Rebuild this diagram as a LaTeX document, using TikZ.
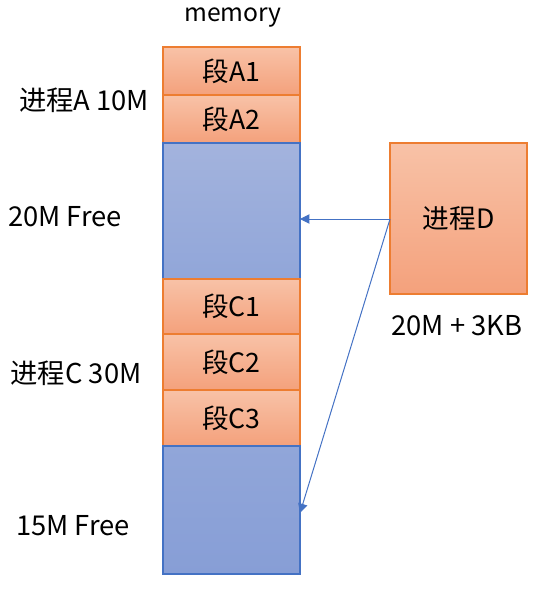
\documentclass[tikz,border=0pt]{standalone}
\usepackage{fontspec}
\setmainfont{Noto Sans CJK SC}
\usetikzlibrary{arrows.meta}
\begin{document}
\begin{tikzpicture}[x=0.75pt,y=-0.75pt,
  seg/.style={draw={rgb,255:red,237;green,125;blue,49}, line width=0.8pt,
    top color={rgb,255:red,248;green,194;blue,167}, bottom color={rgb,255:red,244;green,161;blue,124},
    minimum width=137*0.75pt, inner sep=0pt, font=\fontsize{20}{24}\selectfont},
  free/.style={draw={rgb,255:red,68;green,114;blue,196}, line width=0.8pt,
    top color={rgb,255:red,163;green,179;blue,221}, bottom color={rgb,255:red,145;green,166;blue,217},
    minimum width=137*0.75pt, inner sep=0pt},
  lbl/.style={font=\fontsize{20.5}{24}\selectfont, inner sep=0pt},
  conn/.style={draw={rgb,255:red,68;green,114;blue,196}, line width=0.75pt,
    -{Triangle[width=7pt,length=7pt]}}
]
\useasboundingbox (0,0) rectangle (558,592);
\node[lbl, font=\fontsize{18.5}{22}\selectfont] (mem) at (233,18) {memory};
\node[seg, minimum height=48*0.75pt] (a1) at (231.5,71) {段A1};
\node[seg, minimum height=48*0.75pt] (a2) at (231.5,119) {段A2};
\node[free, minimum height=136*0.75pt] (f20) at (231.5,211) {};
\node[seg, minimum height=55*0.75pt] (c1) at (231.5,306.5) {段C1};
\node[seg, minimum height=56*0.75pt] (c2) at (231.5,362) {段C2};
\node[seg, minimum height=56*0.75pt] (c3) at (231.5,418) {段C3};
\node[free, minimum height=128*0.75pt, top color={rgb,255:red,145;green,166;blue,217}, bottom color={rgb,255:red,135;green,158;blue,214}] (f15) at (231.5,510) {};
\node[seg, minimum width=137*0.75pt, minimum height=151*0.75pt] (d) at (458.5,218.5) {进程D};
\node[lbl] (la) at (84,100) {进程A 10M};
\node[lbl] (l20) at (65,217) {20M Free};
\node[lbl] (lc) at (76,373) {进程C 30M};
\node[lbl] (l15) at (73,526) {15M Free};
\node[lbl] (ld) at (457,326) {20M + 3KB};
\coordinate (ds) at (390,219);
\coordinate (t1) at (300,219);
\coordinate (t2) at (300,513);
\draw[conn] (ds) -- (t1);
\draw[conn] (ds) -- (t2);
\end{tikzpicture}
\end{document}
